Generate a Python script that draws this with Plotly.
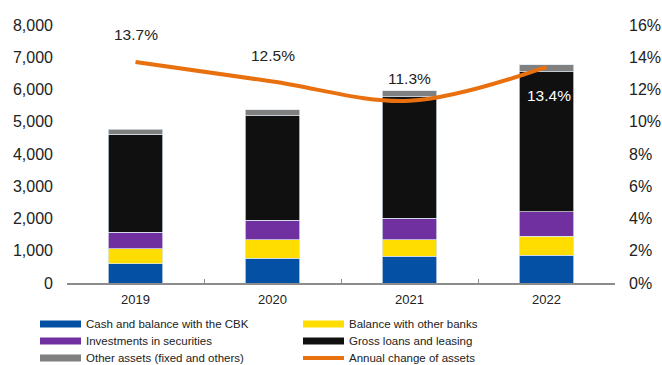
import plotly.graph_objects as go

years = ["2019", "2020", "2021", "2022"]
cash_cbk = [600, 775, 825, 855]
other_banks = [460, 565, 515, 590]
securities = [515, 600, 670, 765]
loans = [3035, 3250, 3765, 4345]
other_assets = [155, 175, 185, 210]
annual_change = [13.7, 12.5, 11.3, 13.4]

series = [
    ("Cash and balance with the CBK", cash_cbk, "#0450A5"),
    ("Balance with other banks", other_banks, "#FFDD00"),
    ("Investments in securities", securities, "#7030A0"),
    ("Gross loans and leasing", loans, "#101010"),
    ("Other assets (fixed and others)", other_assets, "#808080"),
]
line_name = "Annual change of assets"
line_color = "#E8700F"

FONT = "Liberation Sans, Arial, sans-serif"
W, H = 662, 365
L, R, T, B = 67, 47, 25, 82

fig = go.Figure()
for name, vals, col in series:
    fig.add_trace(go.Bar(
        x=years, y=vals, name=name, marker_color=col,
        marker_line=dict(color="rgba(220,230,240,0.9)", width=0.8),
        width=0.4, showlegend=False,
    ))

fig.add_trace(go.Scatter(
    x=years, y=annual_change, yaxis="y2", mode="lines",
    line=dict(color=line_color, width=4, shape="spline", smoothing=1.0),
    name=line_name, showlegend=False,
))

# value labels for the annual change line
label_shift = [28, 26, 22, -29]
label_xshift = [0, 0, 0, 2]
label_color = ["#222222", "#222222", "#222222", "#FFFFFF"]
for i, (v, s, xs, c) in enumerate(zip(annual_change, label_shift, label_xshift, label_color)):
    fig.add_annotation(
        x=i, y=v, xref="x", yref="y2", text=f"{v:.1f}%", showarrow=False,
        yshift=s, xshift=xs, font=dict(family=FONT, size=15.5, color=c),
    )

# two-column legend with wide swatches
pw = W - L - R
ph = H - T - B
def px_x(x):
    return (x - L) / pw
def px_y(y):
    return (H - B - y) / ph

legend_items = [
    (series[0][0], series[0][2], "bar"), (series[1][0], series[1][2], "bar"),
    (series[2][0], series[2][2], "bar"), (series[3][0], series[3][2], "bar"),
    (series[4][0], series[4][2], "bar"), (line_name, line_color, "line"),
]
col_x = [40, 303]
row_y = [324, 341, 358]
for i, (name, col, kind) in enumerate(legend_items):
    cx = col_x[i % 2]
    cy = row_y[i // 2]
    if kind == "bar":
        fig.add_shape(type="rect", xref="paper", yref="paper",
                      x0=px_x(cx), x1=px_x(cx + 41),
                      y0=px_y(cy + 3.5), y1=px_y(cy - 3.5),
                      fillcolor=col, line=dict(width=0))
    else:
        fig.add_shape(type="line", xref="paper", yref="paper",
                      x0=px_x(cx), x1=px_x(cx + 41),
                      y0=px_y(cy), y1=px_y(cy),
                      line=dict(color=col, width=4))
    fig.add_annotation(xref="paper", yref="paper", x=px_x(cx + 44), y=px_y(cy),
                       xanchor="left", yanchor="middle", showarrow=False,
                       text=name, font=dict(family=FONT, size=11.5, color="#222222"))

fig.update_layout(
    width=W, height=H, barmode="stack",
    margin=dict(l=L, r=R, t=T, b=B, pad=0, autoexpand=False),
    paper_bgcolor="white", plot_bgcolor="white",
    font=dict(family=FONT, color="#222222"),
    showlegend=False,
    xaxis=dict(
        type="category", range=[-0.5, 3.5], autorange=False, automargin=False,
        showline=True, linecolor="#8C8C8C", linewidth=1.5,
        ticks="inside", tickson="boundaries", ticklen=4, tickcolor="#8C8C8C",
        tickfont=dict(size=13), showgrid=False, ticklabelstandoff=4,
    ),
    yaxis=dict(
        range=[0, 8000], dtick=1000, tickformat=",d", showgrid=False,
        zeroline=False, showline=False, tickfont=dict(size=16),
        ticklabelstandoff=13, automargin=False,
    ),
    yaxis2=dict(
        overlaying="y", side="right", range=[0, 16], dtick=2,
        ticksuffix="%", showgrid=False, zeroline=False, showline=False,
        tickfont=dict(size=16), ticklabelstandoff=13, automargin=False,
    ),
)

fig.write_html("out.html")
